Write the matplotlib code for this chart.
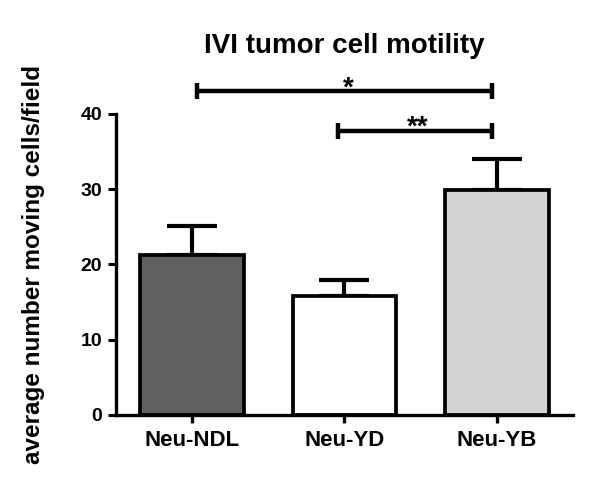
import matplotlib.pyplot as plt

plt.rcParams['font.family'] = 'Liberation Sans'
plt.rcParams['font.weight'] = 'bold'

groups = ['Neu-NDL', 'Neu-YD', 'Neu-YB']
means = [21.2, 15.8, 29.9]
errors = [3.9, 2.2, 4.1]
colors = ['#606060', '#ffffff', '#d3d3d3']

# significance brackets: (x left, x right, height, label)
brackets = [(0.035, 1.97, 43.0, '*'), (0.957, 1.97, 37.7, '**')]


def run():
    fig = plt.figure(figsize=(6, 4.98), dpi=100)
    ax = fig.add_axes([0.193, 0.1667, 0.762, 0.680])

    x = range(len(groups))
    ax.errorbar(x, means, yerr=[[0] * len(errors), errors], fmt='none',
                ecolor='black', elinewidth=3, capsize=18, capthick=3,
                zorder=1)
    ax.bar(x, means, width=0.68, color=colors, edgecolor='black',
           linewidth=2.7, zorder=2)

    for a, b, h, lab in brackets:
        ax.plot([a, b], [h, h], color='black', lw=3.2, clip_on=False,
                solid_capstyle='butt')
        for xx in (a, b):
            ax.plot([xx, xx], [h - 1.06, h + 1.06], color='black', lw=3.2,
                    clip_on=False, solid_capstyle='butt')
        ax.text((a + b) / 2 + 0.02, h - 0.5, lab, ha='center',
                va='baseline', fontsize=20, fontweight='bold')

    ax.set_xlim(-0.5, 2.5)
    ax.set_ylim(0, 45)
    ax.set_yticks([0, 10, 20, 30, 40])
    ax.set_xticks(list(x))
    ax.set_xticklabels(groups, fontsize=16, fontweight='bold')
    for t in ax.get_yticklabels():
        t.set_fontsize(14)
        t.set_fontweight('bold')

    ax.spines['top'].set_visible(False)
    ax.spines['right'].set_visible(False)
    ax.spines['left'].set_bounds(0, 40)
    ax.spines['left'].set_linewidth(2.4)
    ax.spines['bottom'].set_linewidth(2.4)
    ax.tick_params(axis='y', length=6, width=2.2, pad=4)
    ax.tick_params(axis='x', length=6, width=2.4, pad=5)

    ax.set_ylabel('average number moving cells/field', fontsize=17.5,
                  fontweight='bold')
    ax.yaxis.set_label_coords(-0.155, 20 / 45)
    ax.set_title('IVI tumor cell motility', fontsize=20, fontweight='bold',
                 pad=16.5)

    fig.savefig('out.png', dpi=100)


if __name__ == '__main__':
    run()
